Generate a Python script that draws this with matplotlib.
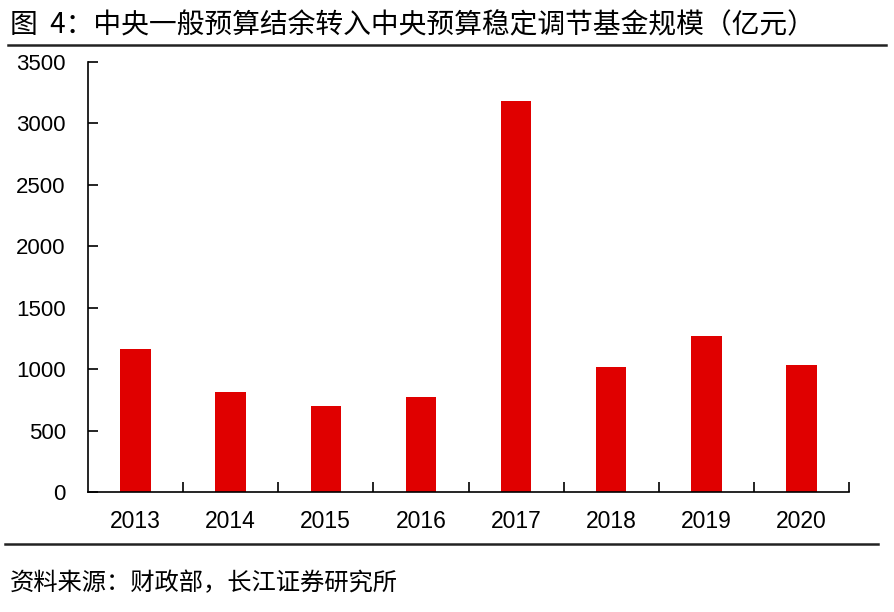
import matplotlib.pyplot as plt
from matplotlib.lines import Line2D

plt.rcParams['font.family'] = ['Liberation Sans', 'Noto Sans CJK SC', 'DejaVu Sans']

years = ['2013', '2014', '2015', '2016', '2017', '2018', '2019', '2020']
values = [1163, 813, 699, 777, 3181, 1018, 1270, 1039]

title = '图  4：中央一般预算结余转入中央预算稳定调节基金规模（亿元）'
source = '资料来源：财政部，长江证券研究所'

fig = plt.figure(figsize=(8.94, 6.12), dpi=100)
ax = fig.add_axes([0.0984, 0.1956, 0.8513, 0.7031])

x = range(len(years))
ax.bar(x, values, width=0.32, color='#E00000')

ax.set_xlim(-0.5, len(years) - 0.5)
ax.set_ylim(0, 3500)
ax.set_yticks(range(0, 3501, 500))
ax.set_xticks(x)
ax.set_xticklabels(years)
# tick marks sit between the categories
ax.set_xticks([i + 0.5 for i in x], minor=True)
ax.tick_params(axis='x', which='major', length=0, labelsize=16.5, pad=13)
ax.tick_params(axis='x', which='minor', direction='in', length=7, width=1.2)
ax.tick_params(axis='y', direction='in', length=7, width=1.2, labelsize=16, pad=16)

for s in ['top', 'right']:
    ax.spines[s].set_visible(False)
for s in ['left', 'bottom']:
    ax.spines[s].set_linewidth(1.2)

fig.text(0.011, 0.958, title, fontsize=20, va='center', ha='left',
         family=['Noto Sans CJK SC', 'DejaVu Sans'])
fig.text(0.011, 0.047, source, fontsize=17.5, va='center', ha='left',
         family=['Noto Sans CJK SC', 'DejaVu Sans'])

fig.add_artist(Line2D([0.009, 0.991], [0.927, 0.927], color='#222222', lw=1.8,
                      transform=fig.transFigure))
fig.add_artist(Line2D([0.006, 0.982], [0.111, 0.111], color='#222222', lw=1.8,
                      transform=fig.transFigure))

fig.savefig('out.png', dpi=100)
